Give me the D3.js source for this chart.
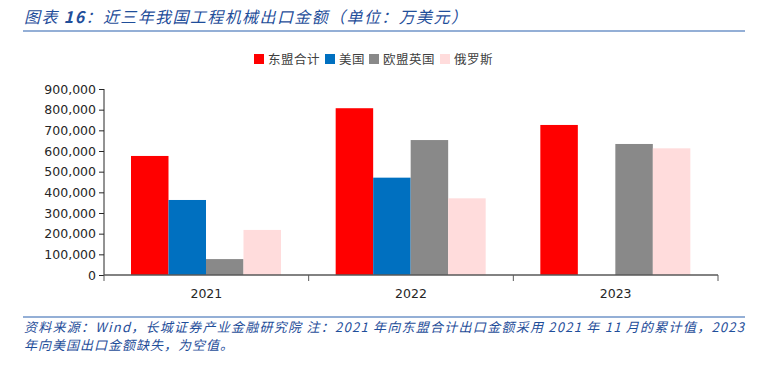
<!DOCTYPE html>
<html>
<head>
<meta charset="utf-8">
<title>工程机械出口金额</title>
<style>
  body { margin: 0; background: #fff; }
  svg { display: block; }
</style>
</head>
<body>
<svg id="chart" width="762" height="373"></svg>
<script src="https://cdn.jsdelivr.net/npm/d3@7"></script>
<script>
// data
var years = ['2021', '2022', '2023']
var seriesNames = ['东盟合计', '美国', '欧盟英国', '俄罗斯']
var colors = ['#ff0000', '#0070c0', '#898989', '#ffdcdc']
var asean = [576000, 807000, 726000]
var usa = [363000, 471000, null]   // 2023 missing
var euUk = [77000, 653000, 634000]
var russia = [218000, 371000, 613000]
var yTicks = [0, 100000, 200000, 300000, 400000, 500000, 600000, 700000, 800000, 900000]

var values = [asean, usa, euUk, russia]

var svg = d3.select('#chart')
var blue = '#1f4e9a'
var cjk = '"Noto Sans CJK SC", sans-serif'

// title
var title = svg.append('text')
    .attr('x', 24).attr('y', 23)
    .attr('fill', blue)
    .style('font-family', cjk)
    .style('font-size', '16px')
    .style('font-style', 'italic')
    .style('letter-spacing', '1.4px')
title.append('tspan').text('图表 ')
title.append('tspan').style('font-weight', 'bold').text('16')
title.append('tspan').text('：近三年我国工程机械出口金额（单位：万美元）')

svg.append('line')
    .attr('x1', 23).attr('x2', 745).attr('y1', 31).attr('y2', 31)
    .attr('stroke', '#7094c8').attr('stroke-width', 1.5)

// legend
var legendX = [254, 325, 369, 440]
var legend = svg.append('g')
seriesNames.forEach(function(name, i){
    legend.append('rect')
        .attr('x', legendX[i]).attr('y', 54)
        .attr('width', 10).attr('height', 10)
        .attr('fill', colors[i])
    legend.append('text')
        .attr('x', legendX[i] + 14).attr('y', 63.5)
        .attr('fill', '#404040')
        .style('font-family', cjk)
        .style('font-size', '12.5px')
        .style('letter-spacing', '0.5px')
        .text(name)
})

// scales
var x0 = d3.scaleBand().domain(years).range([104, 718]).paddingInner(0).paddingOuter(0)
var x1 = d3.scaleBand().domain(d3.range(4)).range([27, 177])
var y = d3.scaleLinear().domain([0, 900000]).range([275, 89])

// bars
var groups = svg.append('g').selectAll('g')
    .data(years)
    .enter().append('g')
    .attr('transform', function(d){ return 'translate(' + x0(d) + ',0)' })

groups.selectAll('rect')
    .data(function(d, yi){
        return values.map(function(s, si){ return { si: si, v: s[yi] } })
            .filter(function(o){ return o.v != null })
    })
    .enter().append('rect')
    .attr('x', function(d){ return x1(d.si) })
    .attr('width', x1.bandwidth())
    .attr('y', function(d){ return y(d.v) })
    .attr('height', function(d){ return y(0) - y(d.v) })
    .attr('fill', function(d){ return colors[d.si] })

// y axis
var yAxis = svg.append('g')
    .attr('transform', 'translate(104,0)')
    .call(d3.axisLeft(y).tickValues(yTicks).tickSize(5).tickPadding(3)
        .tickFormat(d3.format(',')))
yAxis.select('.domain').attr('stroke', '#262626').attr('d', 'M0,89V275')
yAxis.selectAll('.tick line').attr('stroke', '#262626')
yAxis.selectAll('text')
    .attr('fill', '#262626')
    .style('font-family', '"DejaVu Sans", sans-serif')
    .style('font-size', '12.5px')

// x axis
var xAxis = svg.append('g')
    .attr('transform', 'translate(0,275)')
    .call(d3.axisBottom(x0).tickSize(0).tickPadding(14))
xAxis.select('.domain').attr('stroke', '#595959').attr('stroke-width', 1.5).attr('d', 'M104,0H718')
xAxis.selectAll('text')
    .attr('fill', '#262626')
    .style('font-family', '"DejaVu Sans", sans-serif')
    .style('font-size', '12.5px')
// category boundary ticks
xAxis.selectAll('.sep')
    .data(years.concat(['end']))
    .enter().append('line')
    .attr('class', 'sep')
    .attr('x1', function(d, i){ return i < 3 ? x0(d) : x0.range()[1] })
    .attr('x2', function(d, i){ return i < 3 ? x0(d) : x0.range()[1] })
    .attr('y1', 0).attr('y2', 6)
    .attr('stroke', '#595959')

// footer
svg.append('line')
    .attr('x1', 23).attr('x2', 745).attr('y1', 317).attr('y2', 317)
    .attr('stroke', '#7094c8').attr('stroke-width', 1.5)

var notes = [
    '资料来源：Wind，长城证券产业金融研究院 注：2021 年向东盟合计出口金额采用 2021 年 11 月的累计值，2023',
    '年向美国出口金额缺失，为空值。'
]
svg.selectAll('.note')
    .data(notes)
    .enter().append('text')
    .attr('class', 'note')
    .attr('x', 24)
    .attr('y', function(d, i){ return 332 + i * 18 })
    .attr('fill', blue)
    .style('font-family', cjk)
    .style('font-size', '13px')
    .style('font-style', 'italic')
    .style('letter-spacing', '1px')
    .text(function(d){ return d })
    .each(function(d, i){
        if (i === 0) d3.select(this).attr('textLength', 721).attr('lengthAdjust', 'spacing')
    })
</script>
</body>
</html>
